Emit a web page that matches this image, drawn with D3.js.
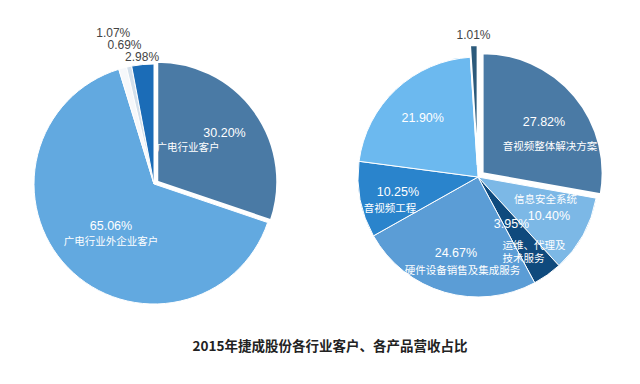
<!DOCTYPE html>
<html><head><meta charset="utf-8">
<script src="https://cdn.jsdelivr.net/npm/d3@7/dist/d3.min.js"></script>
<style>html,body{margin:0;padding:0;background:#fff;}svg{display:block;}</style>
</head><body>
<svg id="c" width="640" height="384"></svg>
<script>
// ---- data ----
const leftCategories = ["广电行业客户", "广电行业外企业客户", "其他1", "其他2", "其他3"];
const leftValues = [30.20, 65.06, 1.07, 0.69, 2.98];
const leftLabels = ["30.20%", "65.06%", "1.07%", "0.69%", "2.98%"];
const leftNames = ["广电行业客户", "广电行业外企业客户", "", "", ""];

const rightCategories = ["音视频整体解决方案", "信息安全系统", "运维、代理及技术服务", "硬件设备销售及集成服务", "音视频工程", "其他产品", "其他"];
const rightValues = [27.82, 10.40, 3.95, 24.67, 10.25, 21.90, 1.01];
const rightLabels = ["27.82%", "10.40%", "3.95%", "24.67%", "10.25%", "21.90%", "1.01%"];
const rightNames = [["音视频整体解决方案"], ["信息安全系统"], ["运维、代理及", "技术服务"], ["硬件设备销售及集成服务"], ["音视频工程"], [], []];

const titleText = "2015年捷成股份各行业客户、各产品营收占比";

// ---- styles / layout ----
const leftColors = ["#4a7aa5", "#62a9e0", "#f6f8fb", "#d3e0ec", "#1b6cb7"];
const rightColors = ["#4a7aa5", "#7cb8e6", "#0f4a7d", "#5b9dd6", "#2a84cc", "#6cb9ef", "#2c5a7b"];
const FONT = "'Liberation Sans','Noto Sans CJK SC',sans-serif";

const svg = d3.select("#c");
const R = 120;

// layout spec per slice: explode offset, label radius fraction, label placement
const leftLayout = [
  {explode: 4, rf: 0.69, pct: [0, 0], name: [-36.5, 14], anchor: "middle"},
  {explode: 0, rf: 0.5, pct: [0, 0], name: [0, 15], anchor: "middle"},
  {explode: 0, outer: 1.30},
  {explode: 0, outer: 1.185},
  {explode: 0, outer: 1.065}
];
const rightLayout = [
  {explode: 6, rf: 0.667, pct: [0, 0], name: [6, 24]},
  {explode: 0, rf: 0.675, pct: [0, 0], name: [-3.5, -17]},
  {explode: 0, rf: 0.483, pct: [0, 0], name: [-9, 21], nameAnchor: "start", lineH: 13},
  {explode: 0, rf: 0.66, pct: [0, 0], name: [6.5, 16.5]},
  {explode: 0, rf: 0.68, pct: [0, 0], name: [-8, 16]},
  {explode: 0, rf: 0.675, pct: [0, 0]},
  {explode: 12, outer: 1.183}
];

function drawPie(cx, cy, values, colors, labels, names, layout) {
  const pie = d3.pie().sort(null).value(d => d)(values);
  const arc = d3.arc().innerRadius(0).outerRadius(R);
  const g = svg.append("g").attr("transform", `translate(${cx},${cy})`);
  const shift = (d, off) => {
    const a = (d.startAngle + d.endAngle) / 2;
    return [off * Math.sin(a), -off * Math.cos(a)];
  };
  g.selectAll("path").data(pie).join("path")
    .attr("d", arc)
    .attr("fill", (d, i) => colors[i])
    .attr("stroke", "#fff")
    .attr("stroke-width", (d, i) => layout[i].explode > 0 ? 2 : 1)
    .attr("stroke-linejoin", "miter")
    .attr("transform", (d, i) => {
      const s = shift(d, layout[i].explode);
      return `translate(${s[0]},${s[1]})`;
    });

  pie.forEach((d, i) => {
    const L = layout[i];
    const a = (d.startAngle + d.endAngle) / 2;
    if (L.outer) {
      const rr = R * L.outer;
      g.append("text")
        .attr("x", rr * Math.sin(a)).attr("y", -rr * Math.cos(a))
        .attr("text-anchor", "middle").attr("dominant-baseline", "central")
        .attr("font-family", FONT).attr("font-size", 12).attr("fill", "#444")
        .text(labels[i]);
      return;
    }
    const s = shift(d, L.explode);
    const rr = R * L.rf;
    const px = rr * Math.sin(a) + s[0], py = -rr * Math.cos(a) + s[1];
    g.append("text")
      .attr("x", px + L.pct[0]).attr("y", py + L.pct[1])
      .attr("text-anchor", "middle").attr("dominant-baseline", "central")
      .attr("font-family", FONT).attr("font-size", 12.5).attr("fill", "#fff")
      .text(labels[i]);
    const nm = Array.isArray(names[i]) ? names[i] : (names[i] ? [names[i]] : []);
    nm.forEach((t, j) => {
      g.append("text")
        .attr("x", px + L.name[0]).attr("y", py + L.name[1] + j * (L.lineH || 13))
        .attr("text-anchor", L.nameAnchor || "middle").attr("dominant-baseline", "central")
        .attr("font-family", FONT).attr("font-size", 10.5).attr("fill", "#fff")
        .text(t);
    });
  });
}

drawPie(154, 184, leftValues, leftColors, leftLabels, leftNames, leftLayout);
drawPie(478, 177, rightValues, rightColors, rightLabels, rightNames, rightLayout);

svg.append("text")
  .attr("x", 330).attr("y", 345)
  .attr("text-anchor", "middle").attr("dominant-baseline", "central")
  .attr("font-family", "'Noto Sans CJK SC','Liberation Sans',sans-serif")
  .attr("font-size", 13.5).attr("font-weight", "bold").attr("fill", "#222")
  .text(titleText);
</script>
</body></html>
